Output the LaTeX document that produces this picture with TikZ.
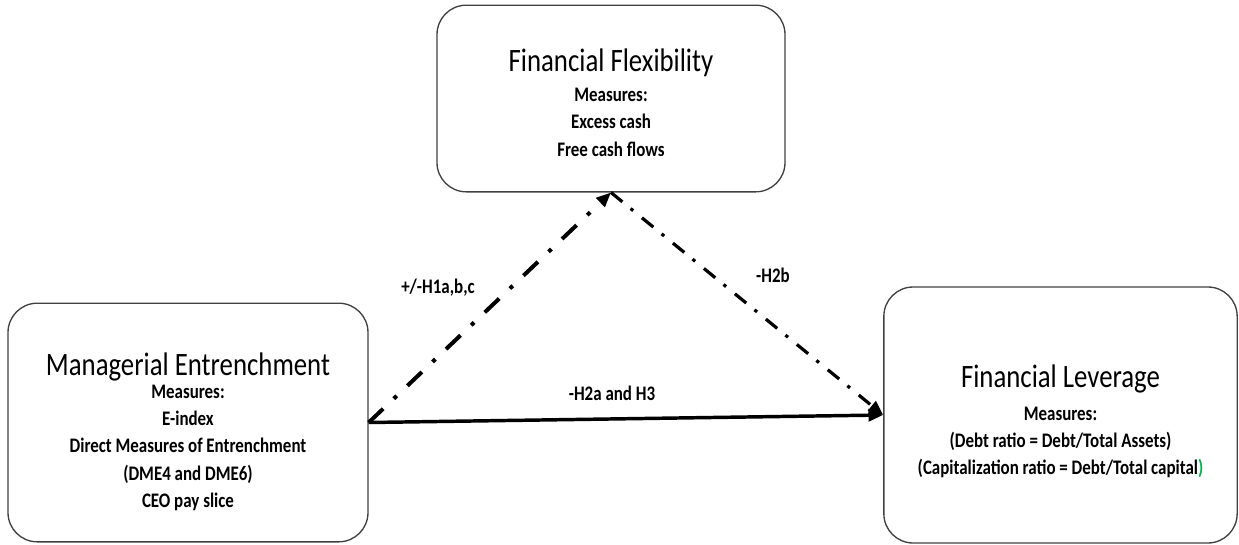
\documentclass[tikz,border=0pt]{standalone}
\usepackage{fontspec}
\setmainfont{Carlito}
\usepackage{xcolor}
\usetikzlibrary{arrows.meta}
\definecolor{parengreen}{RGB}{0,176,80}

\tikzset{
  varbox/.style={draw=black!75,line width=1pt,rounded corners=22pt,inner sep=0pt},
  narrow/.style={xscale=0.82,transform shape},
  boxtext/.style={narrow,align=center,font=\fontsize{15.5}{20.5}\selectfont\bfseries,inner sep=0pt},
  hyplabel/.style={narrow,font=\fontsize{15.5}{18}\selectfont\bfseries},
  dashdotthick/.style={line width=3pt,dash pattern=on 15pt off 11pt on 3pt off 11pt},
  dashdotthin/.style={line width=2.4pt,dash pattern=on 11pt off 8pt on 2.5pt off 8.5pt},
  tip/.style={-{Triangle[length=11pt,width=9pt]}}
}
\newcommand{\boxtitle}[1]{{\fontsize{24.5}{28}\selectfont\mdseries #1}}

\begin{document}
\begin{tikzpicture}[x=0.75pt,y=-0.75pt]
\useasboundingbox (0,0) rectangle (1239,544);
% the three variables
\node[varbox,minimum width=261pt,minimum height=140pt] (flex) at (611,98.5) {};
\node[varbox,minimum width=270pt,minimum height=179pt] (mgr) at (188,422.5) {};
\node[varbox,minimum width=265pt,minimum height=192pt] (lev) at (1060.5,415) {};
\node[boxtext] (flextext) at ([yshift=-3pt]flex.center)
  {\boxtitle{Financial Flexibility}\\[2pt] Measures:\\ Excess cash\\ Free cash flows};
\node[boxtext] (mgrtext) at ([yshift=-7pt]mgr.center)
  {\boxtitle{Managerial Entrenchment}\\[-3.5pt] Measures:\\ E-index\\ Direct Measures of Entrenchment\\ (DME4 and DME6)\\ CEO pay slice};
\node[boxtext] (levtext) at ([yshift=-4.75pt]lev.center)
  {\boxtitle{Financial Leverage}\\[4pt] Measures:\\ (Debt ratio = Debt/Total Assets)\\ (Capitalization ratio = Debt/Total capital\textcolor{parengreen}{)}};
% hypotheses
\draw[dashdotthick,tip] (mgr.east) -- (flex.south);
\draw[dashdotthin,tip] (flex.south) -- (lev.west);
\draw[line width=2.6pt,tip] (mgr.east) -- (lev.west);
\node[hyplabel] (h1) at (438,288) {+/-H1a,b,c};
\node[hyplabel] (h2b) at (773,275) {-H2b};
\node[hyplabel] (h2a) at (612,393) {-H2a and H3};
\end{tikzpicture}
\end{document}
